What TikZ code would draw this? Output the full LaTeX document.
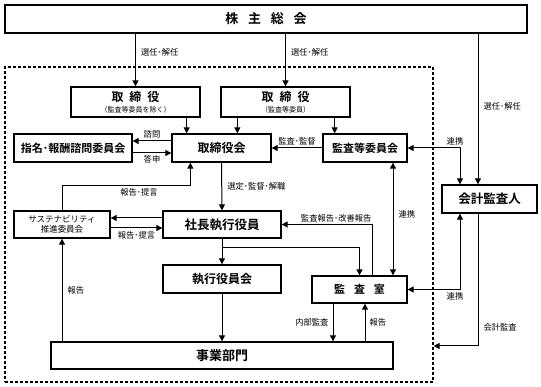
\documentclass[tikz,border=0pt]{standalone}
\usepackage{fontspec}
\setmainfont{Noto Sans CJK JP}[BoldFont={Noto Sans CJK JP Bold}]
\usetikzlibrary{arrows.meta, calc, positioning}
\tikzset{
  % riquadri degli organi
  box/.style={draw, line width=1.3pt, inner sep=0pt, align=center, fill=white,
    font=\bfseries\fontsize{12}{14}\selectfont},
  subbox/.style={box, font=\fontsize{8.5}{10}\selectfont},
  % area tratteggiata (organi interni)
  dashbox/.style={draw, line width=1.1pt, dash pattern=on 3pt off 2pt},
  % frecce
  arr/.style={line width=1pt, -{Triangle[length=6pt, width=6pt]}},
  arr2/.style={line width=1pt, {Triangle[length=6pt, width=6pt]}-{Triangle[length=6pt, width=6pt]}},
  % etichette piccole
  lbl/.style={font=\fontsize{8.3}{9}\selectfont, inner sep=2pt},
}

\begin{document}
\begin{tikzpicture}[x=1pt, y=-1pt]
  \useasboundingbox (0,0) rectangle (541,387);
  \node[dashbox, minimum width=428pt, minimum height=315pt] (naibu) at (219,224.5) {};
  % riquadri
  \node[box, minimum width=522pt, minimum height=28pt, font=\bfseries\fontsize{13}{15}\selectfont] (soukai) at (266,19) {株\hspace{0.75em}主\hspace{0.75em}総\hspace{0.75em}会};
  \node[box, minimum width=129pt, minimum height=30pt] (tori1) at (135.5,102) {取\hspace{0.5em}締\hspace{0.5em}役\\[-3pt]{\normalfont\fontsize{7}{8}\selectfont （監査等委員を除く）}};
  \node[box, minimum width=129pt, minimum height=30pt] (tori2) at (285.5,102) {取\hspace{0.5em}締\hspace{0.5em}役\\[-3pt]{\normalfont\fontsize{7}{8}\selectfont （監査等委員）}};
  \node[box, minimum width=118pt, minimum height=28pt, font=\bfseries\fontsize{11}{13}\selectfont] (shimei) at (73,148) {指名･報酬諮問委員会};
  \node[box, minimum width=99pt, minimum height=28pt] (torikai) at (221.5,148) {取締役会};
  \node[box, minimum width=84pt, minimum height=28pt, font=\bfseries\fontsize{11}{13}\selectfont] (kansa) at (365,148) {監査等委員会};
  \node[box, minimum width=95pt, minimum height=28pt, font=\bfseries\fontsize{12.5}{14}\selectfont] (kaikei) at (489.5,199) {会計監査人};
  \node[subbox, minimum width=96pt, minimum height=27pt] (susta) at (62,224.5) {サステナビリティ\\推進委員会};
  \node[box, minimum width=118pt, minimum height=27pt, font=\bfseries\fontsize{12.5}{14}\selectfont] (shacho) at (222,224.5) {社長執行役員};
  \node[box, minimum width=118pt, minimum height=28pt] (shikkou) at (222,279) {執行役員会};
  \node[box, minimum width=95pt, minimum height=27pt, font=\bfseries\fontsize{11}{13}\selectfont] (kansashitsu) at (359.5,289.5) {監\hspace{0.8em}査\hspace{0.8em}室};
  \node[box, minimum width=342pt, minimum height=27pt, font=\bfseries\fontsize{13}{15}\selectfont] (jigyo) at (222,355.5) {事業部門};
  % punti di attacco
  \coordinate (t1o) at ([xshift=-14pt]tori1.south east);
  \coordinate (t2a) at ([xshift=17pt]tori2.south west);
  \coordinate (t2b) at ([xshift=-16pt]tori2.south east);
  \coordinate (tk1) at ([xshift=19pt]torikai.south west);
  \coordinate (kkA) at ([xshift=-29.5pt]kaikei.north);
  \coordinate (kkB) at ([xshift=-11.5pt]kaikei.north);
  \coordinate (kkC) at ([xshift=-29.5pt]kaikei.south);
  \coordinate (kkD) at ([xshift=-11.5pt]kaikei.south);
  \coordinate (ks1) at ([xshift=12.5pt]kansashitsu.north);
  \coordinate (ks2) at ([xshift=33.5pt]kansashitsu.north);
  \coordinate (ks3) at ([xshift=-26.5pt]kansashitsu.south);
  \coordinate (ks4) at ([xshift=5.5pt]kansashitsu.south);
  % frecce
  \draw[arr] (soukai.south -| tori1.north) -- node[lbl, right=3pt, pos=0.35] {選任･解任} (tori1.north);
  \draw[arr] (soukai.south -| tori2.north) -- node[lbl, right=3pt, pos=0.35] {選任･解任} (tori2.north);
  \draw[arr] (soukai.south -| kkB) -- node[lbl, right=3pt, pos=0.48] {選任･解任} (kkB);
  \draw[arr] (t1o) -- (t1o |- torikai.north);
  \draw[arr] (t2a) -- (t2a |- torikai.north);
  \draw[arr] (t2b) -- (t2b |- kansa.north);
  \draw[arr] ([yshift=7pt]torikai.west) -- node[lbl, above] {諮問} ([yshift=7pt]torikai.west -| shimei.east);
  \draw[arr] ([yshift=-5pt]shimei.east) -- node[lbl, below] {答申} ([yshift=-5pt]shimei.east -| torikai.west);
  \draw[arr] (kansa.west) -- node[lbl, above] {監査･監督} (torikai.east);
  \draw[arr2] (kansa.east) -| node[lbl, above, pos=0.5, xshift=-5pt] {連携} (kkA);
  \draw[arr] (torikai.south) -- node[lbl, right=3pt] {選定･監督･解職} (shacho.north);
  \draw[arr] (susta.north) |- ($(tk1)+(0,23)$) node[lbl, below, pos=0.8] {報告･提言} -- (tk1);
  \draw[arr] ([yshift=6.5pt]shacho.west) -- ([yshift=6.5pt]shacho.west -| susta.east);
  \draw[arr] ([yshift=-3.5pt]susta.east) -- node[lbl, below=1pt] {報告･提言} ([yshift=-3.5pt]susta.east -| shacho.west);
  \draw[arr] (shacho.south) -- (shikkou.north);
  \draw[arr] (shacho.south) -- ++(0,8.5) -| (kansashitsu.north);
  \draw[arr] (ks1) |- node[lbl, anchor=south east, pos=0.5, xshift=2pt] {監査報告･改善報告} (shacho.east);
  \draw[arr2] (ks2 |- kansa.south) -- node[lbl, right=3pt, pos=0.46] {連携} (ks2);
  \draw[arr] (shikkou.south) -- (jigyo.north);
  \draw[arr] (ks3) -- node[lbl, left=2pt] {内部監査} (ks3 |- jigyo.north);
  \draw[arr] (ks4 |- jigyo.north) -- node[lbl, right=2pt] {報告} (ks4);
  \draw[arr] (jigyo.north -| susta.south) -- node[lbl, right=3pt] {報告} (susta.south);
  \draw[arr2] (kkC) |- node[lbl, below, pos=0.5, xshift=-5pt, yshift=-1pt] {連携} (kansashitsu.east);
  \draw[arr] (kkD) |- node[lbl, right=3pt, pos=0.43] {会計監査} ([yshift=-121.5pt]naibu.east);
\end{tikzpicture}
\end{document}
